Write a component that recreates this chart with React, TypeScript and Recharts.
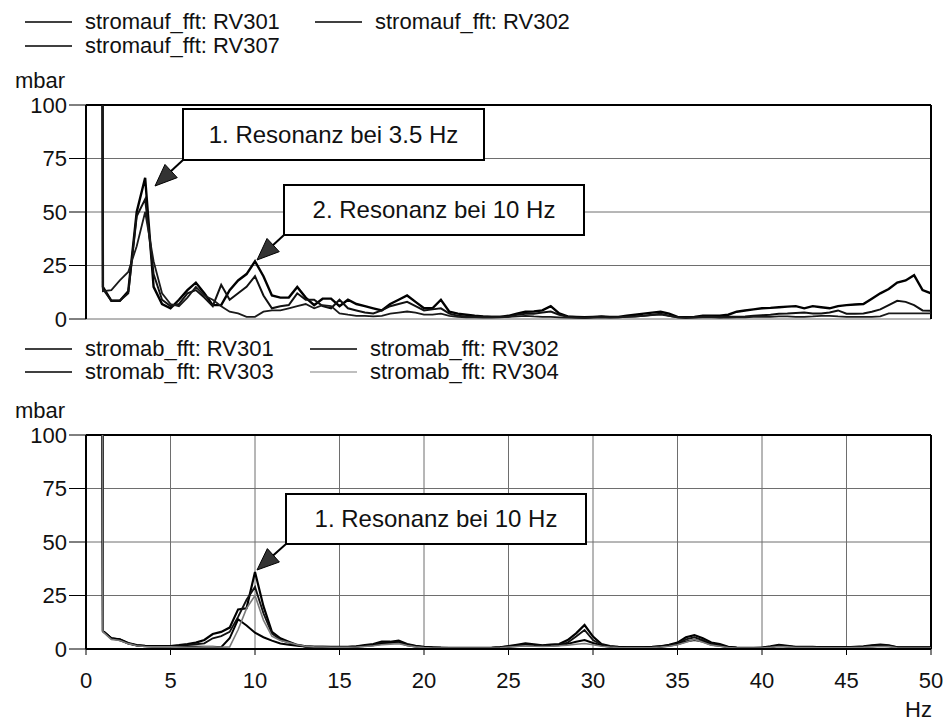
import React from 'react'
import { LineChart, Line, XAxis, YAxis, CartesianGrid, ReferenceLine } from 'recharts'

const FONT = '"Liberation Sans", Arial, Helvetica, sans-serif'

// frequency bins (Hz)
const freqs = [
  0.5, 1, 1.5, 2, 2.5, 3, 3.5, 4, 4.5, 5,
  5.5, 6, 6.5, 7, 7.5, 8, 8.5, 9, 9.5, 10,
  10.5, 11, 11.5, 12, 12.5, 13, 13.5, 14, 14.5, 15,
  15.5, 16, 16.5, 17, 17.5, 18, 18.5, 19, 19.5, 20,
  20.5, 21, 21.5, 22, 22.5, 23, 23.5, 24, 24.5, 25,
  25.5, 26, 26.5, 27, 27.5, 28, 28.5, 29, 29.5, 30,
  30.5, 31, 31.5, 32, 32.5, 33, 33.5, 34, 34.5, 35,
  35.5, 36, 36.5, 37, 37.5, 38, 38.5, 39, 39.5, 40,
  40.5, 41, 41.5, 42, 42.5, 43, 43.5, 44, 44.5, 45,
  45.5, 46, 46.5, 47, 47.5, 48, 48.5, 49, 49.5, 50,
]

// stromauf (mbar)
const aufRV301 = [
  2000, 15, 8.5, 8.5, 13, 50, 66, 15, 7, 5,
  9, 13.5, 17, 12, 6.5, 6.5, 13.5, 18, 21, 27,
  20, 11, 10, 10, 15, 10, 6.5, 9.5, 9.5, 6,
  9, 7, 6, 5, 4, 7, 9, 11, 8, 5,
  5, 9, 3.4, 2.5, 2, 1.5, 1.2, 1, 1, 1.5,
  2.5, 3.4, 3.5, 4, 6, 2.6, 1.2, 1, 0.8, 1,
  1.2, 1, 1, 1.5, 2, 2.5, 3, 3.4, 2.5, 1,
  0.8, 1, 1.5, 1.5, 1.5, 2, 3.4, 4, 4.5, 5,
  5.2, 5.5, 5.8, 6, 5, 6, 5.5, 5, 6, 6.5,
  6.8, 7, 9.5, 12, 14, 17, 18, 20.5, 13.5, 12,
]
const aufRV302 = [
  2000, 14, 8.5, 8.5, 12, 48, 56, 21, 9, 6,
  7, 12, 13.5, 10, 6, 16, 9, 12, 15, 20,
  11, 5, 6, 6.5, 12, 9, 9, 6, 5, 9,
  5, 4, 3, 2.6, 4, 6, 7, 8, 6, 4,
  4.5, 5, 2.5, 1.5, 1.2, 1, 1, 1, 1, 1,
  2, 2.5, 2.5, 3, 3.5, 2, 1, 0.8, 0.6, 0.8,
  1, 0.8, 0.8, 1, 1.2, 1.5, 2, 2.5, 1.5, 0.8,
  0.6, 0.8, 1, 1, 0.8, 1, 1, 1.2, 1.5, 1.8,
  2, 2.5, 2.6, 2.8, 3, 2.6, 2.6, 3, 4, 2.5,
  2.5, 2.6, 3.4, 4.5, 6.5, 8.5, 8, 6.5, 4, 3.8,
]
const aufRV307 = [
  2000, 13, 13.5, 18, 22, 34, 50, 27, 12, 7,
  6, 10, 15, 11, 9, 6, 3.4, 2.6, 1, 1,
  3.4, 4, 4, 5, 6, 7, 5, 6.5, 6, 2.6,
  2, 1.5, 1.5, 1.2, 1.5, 2.5, 3, 3.5, 3, 2,
  2, 2.5, 1.5, 1, 0.8, 0.8, 0.6, 0.6, 0.8, 1,
  1.2, 1.5, 1.2, 1, 1, 0.8, 0.6, 0.5, 0.5, 0.6,
  0.6, 0.6, 0.8, 1, 1.2, 1.5, 1.8, 2, 1.5, 0.8,
  0.6, 0.6, 0.8, 0.8, 0.6, 0.6, 0.8, 0.8, 1, 1,
  1, 1.2, 1.2, 1, 1, 1.2, 1.5, 1.5, 1.2, 1,
  1, 1, 1, 1.2, 2.6, 2.6, 2.6, 2.6, 2.6, 2.6,
]

// stromab (mbar)
const abRV301 = [
  2000, 8.4, 5, 4.5, 2.8, 1.8, 1.5, 1.3, 1.3, 1.4,
  1.8, 2.3, 3, 4.2, 7, 8, 10, 18.5, 19, 36,
  20, 8, 5, 3.4, 1.9, 1.2, 1, 1, 1, 1,
  1, 1.2, 1.8, 2.3, 3.4, 3.4, 3.9, 2.3, 1.5, 1,
  0.8, 0.6, 0.5, 0.5, 0.5, 0.5, 0.5, 0.5, 0.8, 1.4,
  2, 2.6, 2.2, 1.7, 2, 2.3, 4.2, 7.3, 11.2, 5.8,
  2.3, 1.4, 1, 0.8, 0.8, 0.8, 1, 1.3, 2, 3,
  5.5, 6.5, 5, 3, 2.3, 1, 0.6, 0.5, 0.5, 0.6,
  1.2, 1.9, 1.5, 1, 1, 1, 0.8, 0.8, 0.8, 0.8,
  1, 1.2, 1.7, 2, 1.7, 0.8, 0.8, 0.8, 0.8, 0.8,
]
const abRV302 = [
  2000, 8.4, 5, 4, 2.6, 1.7, 1.4, 1.2, 1.2, 1.2,
  1.5, 1.8, 2.2, 2.6, 5, 6, 8, 15, 23, 29,
  16.7, 7.3, 4.2, 3, 1.8, 1.2, 1, 1, 0.9, 0.9,
  1, 1.2, 1.6, 2, 2.8, 3, 3.2, 2, 1.3, 0.9,
  0.7, 0.6, 0.5, 0.5, 0.5, 0.5, 0.5, 0.6, 0.8, 1.2,
  1.6, 2, 1.8, 1.5, 1.7, 2, 3, 5.8, 8.9, 4.2,
  2, 1.2, 0.9, 0.8, 0.8, 0.8, 0.9, 1.2, 1.8, 2.5,
  4.5, 5.5, 4.2, 2.3, 1.8, 0.9, 0.6, 0.5, 0.5, 0.6,
  1, 1.6, 1.3, 0.9, 0.9, 0.9, 0.8, 0.8, 0.8, 0.8,
  0.9, 1, 1.5, 1.7, 1.5, 0.8, 0.7, 0.7, 0.7, 0.7,
]
const abRV303 = [
  2000, 8.4, 5, 4.5, 2.6, 1.6, 1.3, 1.3, 1.3, 1.3,
  1.2, 1, 1, 1, 1, 0.8, 5, 13.9, 11, 7.6,
  5.5, 3.9, 2.6, 2, 1.5, 1.2, 1, 1, 0.9, 0.9,
  0.9, 1, 1.4, 1.8, 2.4, 2.8, 3, 1.8, 1.2, 0.8,
  0.6, 0.5, 0.5, 0.5, 0.5, 0.5, 0.5, 0.5, 0.7, 1,
  1.4, 1.8, 1.6, 1.4, 1.5, 1.8, 2.4, 3.4, 4.2, 2.8,
  1.6, 1, 0.8, 0.7, 0.7, 0.7, 0.8, 1, 1.5, 2.2,
  3.5, 4.2, 3.5, 2, 1.5, 0.8, 0.5, 0.5, 0.5, 0.5,
  0.9, 1.4, 1.2, 0.8, 0.8, 0.8, 0.7, 0.7, 0.7, 0.7,
  0.8, 0.9, 1.2, 1.5, 1.3, 0.7, 0.6, 0.6, 0.6, 0.6,
]
const abRV304 = [
  2000, 8, 4.5, 4, 2.5, 1.5, 1.2, 1, 1, 1,
  0.9, 0.8, 0.8, 1, 1, 0.8, 1, 9, 19, 25,
  13.5, 6, 4, 3, 2, 1.3, 1, 0.9, 0.8, 0.8,
  0.8, 0.9, 1.2, 1.5, 2, 2.3, 2.5, 1.6, 1, 0.7,
  0.5, 0.5, 0.4, 0.4, 0.4, 0.4, 0.4, 0.5, 0.6, 0.9,
  1.2, 1.5, 1.3, 1.2, 1.3, 1.5, 1.8, 2.2, 2.6, 2,
  1.3, 0.9, 0.7, 0.6, 0.6, 0.6, 0.7, 0.9, 1.3, 2,
  3.2, 4.5, 3.2, 1.8, 1.3, 0.7, 0.5, 0.4, 0.4, 0.5,
  0.8, 1.2, 1, 0.7, 0.7, 0.7, 0.6, 0.6, 0.6, 0.6,
  0.7, 0.8, 1, 1.2, 1.1, 0.6, 0.5, 0.5, 0.5, 0.5,
]

const xTicks = [0, 5, 10, 15, 20, 25, 30, 35, 40, 45, 50]
const yTicks = [0, 25, 50, 75, 100]

const aufSeries = [
  { key: 'RV301', label: 'stromauf_fft: RV301', values: aufRV301, color: '#000', width: 2.4 },
  { key: 'RV302', label: 'stromauf_fft: RV302', values: aufRV302, color: '#111', width: 2 },
  { key: 'RV307', label: 'stromauf_fft: RV307', values: aufRV307, color: '#1a1a1a', width: 1.8 },
]
const abSeries = [
  { key: 'RV301', label: 'stromab_fft: RV301', values: abRV301, color: '#000', width: 2.2 },
  { key: 'RV302', label: 'stromab_fft: RV302', values: abRV302, color: '#111', width: 1.9 },
  { key: 'RV303', label: 'stromab_fft: RV303', values: abRV303, color: '#000', width: 2 },
  { key: 'RV304', label: 'stromab_fft: RV304', values: abRV304, color: '#7a7a7a', width: 1.6 },
]

type Series = { key: string; label: string; values: number[]; color: string; width: number }

const toRows = (series: Series[]) =>
  freqs.map((f, i) => {
    const row: Record<string, number> = { f }
    series.forEach(s => { row[s.key] = s.values[i] })
    return row
  })

function Key({ x, y, label, color }: { x: number; y: number; label: string; color: string }) {
  return (
    <div style={{ position: 'absolute', left: x, top: y - 11, height: 22, display: 'flex', alignItems: 'center', whiteSpace: 'nowrap' }}>
      <svg width={47} height={4} style={{ marginRight: 13 }}>
        <line x1={0} y1={2} x2={47} y2={2} stroke={color} strokeWidth={1.6} />
      </svg>
      <span style={{ fontSize: 22, lineHeight: '22px', color: '#111' }}>{label}</span>
    </div>
  )
}

function Panel({ series, top, height, showX }: { series: Series[]; top: number; height: number; showX: boolean }) {
  return (
    <div style={{ position: 'absolute', left: 0, top }}>
      <LineChart width={947} height={height} data={toRows(series)}
        margin={{ top: 105, right: 16, bottom: showX ? 0 : 17, left: 0 }}>
        <CartesianGrid stroke="#6e6e6e" strokeWidth={1} />
        <XAxis type="number" dataKey="f" domain={[0, 50]} ticks={xTicks} interval={0} allowDataOverflow
          height={showX ? 78 : 0} tick={showX ? { fill: '#111', fontSize: 22, fontFamily: FONT } : false}
          tickSize={showX ? 6 : 0} tickMargin={17}
          axisLine={{ stroke: '#000', strokeWidth: 2 }} tickLine={{ stroke: '#000', strokeWidth: 1 }} />
        <YAxis type="number" domain={[0, 100]} ticks={yTicks} interval={0} allowDataOverflow width={86}
          tick={{ fill: '#111', fontSize: 22, fontFamily: FONT }} tickSize={17} tickMargin={2}
          axisLine={{ stroke: '#000', strokeWidth: 2 }} tickLine={{ stroke: '#000', strokeWidth: 1 }} />
        <ReferenceLine y={100} stroke="#000" strokeWidth={2} />
        <ReferenceLine x={50} stroke="#000" strokeWidth={2} />
        {series.map(s => (
          <Line key={s.key} type="linear" dataKey={s.key} stroke={s.color} strokeWidth={s.width}
            dot={false} isAnimationActive={false} />
        ))}
      </LineChart>
    </div>
  )
}

function Callout({ x, y, w, h, text, from, tip }: { x: number; y: number; w: number; h: number; text: string; from: [number, number]; tip: [number, number] }) {
  const dx = tip[0] - from[0]
  const dy = tip[1] - from[1]
  const len = Math.hypot(dx, dy)
  const ux = dx / len
  const uy = dy / len
  const bx = tip[0] - ux * 22
  const by = tip[1] - uy * 22
  const head = `${tip[0]},${tip[1]} ${bx - uy * 9},${by + ux * 9} ${bx + uy * 9},${by - ux * 9}`
  return (
    <g>
      <line x1={from[0]} y1={from[1]} x2={bx} y2={by} stroke="#000" strokeWidth={2} />
      <polygon points={head} fill="#333" stroke="#000" strokeWidth={1} />
      <rect x={x} y={y} width={w} height={h} fill="#fff" stroke="#000" strokeWidth={2} />
      <text x={x + w / 2} y={y + h / 2 + 8} textAnchor="middle" fontSize={24} fontFamily={FONT} fill="#111">{text}</text>
    </g>
  )
}

export default function App() {
  return (
    <div style={{ position: 'absolute', left: 0, top: 0, width: 947, height: 727, background: '#fff', fontFamily: FONT, overflow: 'hidden' }}>
      <Panel series={aufSeries} top={0} height={336} showX={false} />
      <Panel series={abSeries} top={330} height={397} showX={true} />

      <Key x={25} y={22} label={aufSeries[0].label} color="#000" />
      <Key x={315} y={22} label={aufSeries[1].label} color="#000" />
      <Key x={25} y={46} label={aufSeries[2].label} color="#000" />
      <div style={{ position: 'absolute', left: 15, top: 68, fontSize: 22, color: '#111' }}>mbar</div>

      <Key x={25} y={349} label={abSeries[0].label} color="#000" />
      <Key x={310} y={349} label={abSeries[1].label} color="#000" />
      <Key x={25} y={372} label={abSeries[2].label} color="#000" />
      <Key x={310} y={372} label={abSeries[3].label} color="#aaa" />
      <div style={{ position: 'absolute', left: 15, top: 398, fontSize: 22, color: '#111' }}>mbar</div>

      <div style={{ position: 'absolute', left: 905, top: 697, fontSize: 22, color: '#111' }}>Hz</div>

      <svg width={947} height={727} style={{ position: 'absolute', left: 0, top: 0, pointerEvents: 'none' }}>
        <Callout x={183} y={109} w={301} h={51} text="1. Resonanz bei 3.5 Hz" from={[183, 160]} tip={[155, 186]} />
        <Callout x={284} y={185} w={300} h={50} text="2. Resonanz bei 10 Hz" from={[284, 235]} tip={[257, 260]} />
        <Callout x={286} y={494} w={300} h={50} text="1. Resonanz bei 10 Hz" from={[286, 544]} tip={[257, 570]} />
      </svg>
    </div>
  )
}
